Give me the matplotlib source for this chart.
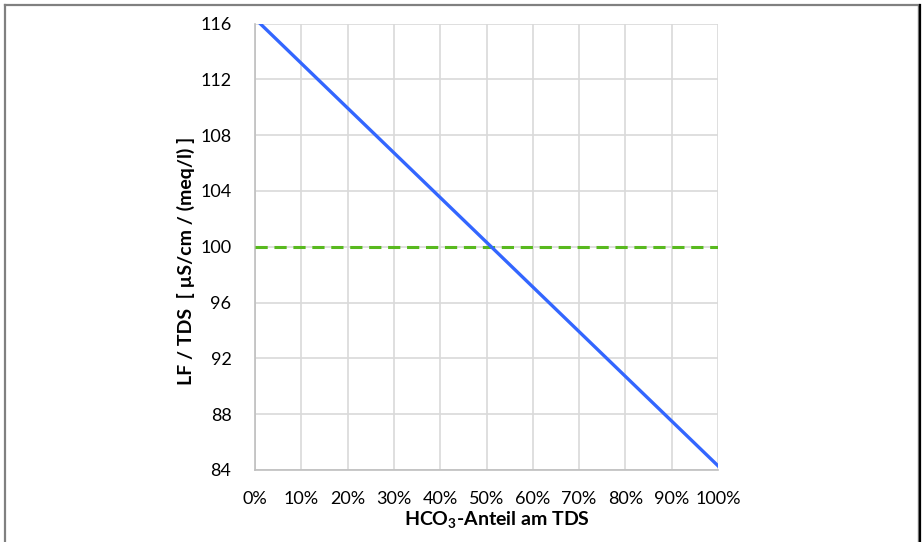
import matplotlib
matplotlib.use("Agg")
import matplotlib.pyplot as plt
from matplotlib.lines import Line2D
import numpy as np

plt.rcParams['font.family'] = ['Lato', 'DejaVu Sans']
plt.rcParams['mathtext.fontset'] = 'custom'
plt.rcParams['mathtext.rm'] = 'Lato'
plt.rcParams['mathtext.bf'] = 'Lato:bold'

# data
hco3_share = [0, 100]                 # percent
lf_tds = [116.35, 84.3]               # µS/cm / (meq/l)
ref_share = [0, 100]
ref_value = [100, 100]
x_ticks = list(range(0, 101, 10))
y_ticks = list(range(84, 117, 4))

W, H = 924, 542
fig = plt.figure(figsize=(W / 100, H / 100), dpi=100)
ax = fig.add_axes([255 / W, 1 - 470 / H, (718 - 255) / W, (470 - 23.5) / H])

ax.plot(ref_share, ref_value, color='#58B91E', lw=2.2, dashes=(4, 2.2), zorder=3)
ax.plot(hco3_share, lf_tds, color='#3366FF', lw=2.4, zorder=4, clip_on=True)

ax.set_xlim(0, 100)
ax.set_ylim(84, 116)
ax.set_xticks(x_ticks)
ax.set_xticklabels([f"{v}%" for v in x_ticks])
ax.set_yticks(y_ticks)
ax.grid(True, color='#D9D9D9', lw=1.2)
ax.set_axisbelow(True)
for s in ['top', 'right']:
    ax.spines[s].set_visible(False)
for s in ['left', 'bottom']:
    ax.spines[s].set_color('#BFBFBF')
    ax.spines[s].set_linewidth(1.2)
ax.tick_params(length=0, labelsize=13, colors='#000000')
ax.tick_params(axis='x', pad=15)
ax.tick_params(axis='y', pad=17)

fig.text(497 / W, 1 - 520 / H, r'HCO$_\mathbf{3}$-Anteil am TDS', fontsize=14,
         fontweight='bold', ha='center', va='center')
fig.text(186 / W, 1 - 261 / H, 'LF / TDS  [ µS/cm / (meq/l) ]', fontsize=14,
         fontweight='bold', ha='center', va='center', rotation=90)

# figure border
def fline(x0, y0, x1, y1, c, lw):
    fig.add_artist(Line2D([x0 / W, x1 / W], [1 - y0 / H, 1 - y1 / H],
                          transform=fig.transFigure, color=c, lw=lw))

fline(4.5, 4.5, 4.5, H, '#808080', 1.6)
fline(4.5, 4.5, 918.5, 4.5, '#808080', 1.6)
fline(918, 4.5, 918, H, '#808080', 1.0)
fline(919.8, 5, 919.8, H, '#000000', 1.6)

fig.savefig('out.png', dpi=100)
